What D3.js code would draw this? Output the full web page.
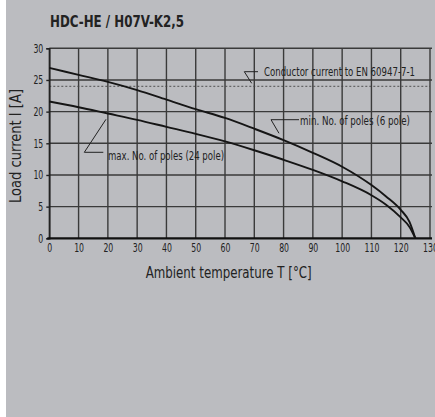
<!DOCTYPE html>
<html><head><meta charset="utf-8">
<script src="https://cdn.jsdelivr.net/npm/d3@7"></script>
<style>
html,body{margin:0;padding:0;background:#fff;}
svg{display:block;}
text{font-family:"DejaVu Sans Condensed","Liberation Sans Narrow",sans-serif;fill:#222;}
</style></head>
<body>
<script>
const title = "HDC-HE / H07V-K2,5";
const xLabel = "Ambient temperature T [°C]";
const yLabel = "Load current I [A]";
const xTicks = [0,10,20,30,40,50,60,70,80,90,100,110,120,130];
const yTicks = [0,5,10,15,20,25,30];
const conductorCurrent = 24;
const tempMin = [0,10,20,30,40,50,60,70,80,90,100,110,115,120,123,125];
const currentMin = [26.9,25.8,24.7,23.4,21.9,20.4,19.0,17.3,15.5,13.5,11.3,8.4,6.6,4.5,2.6,0];
const tempMax = [0,10,20,30,40,50,60,70,80,90,100,110,115,120,123,125];
const currentMax = [21.6,20.7,19.7,18.7,17.6,16.5,15.3,13.9,12.4,10.8,9.0,6.8,5.3,3.3,1.8,0];
const annConductor = "Conductor current to EN 60947-7-1";
const annMin = "min. No. of poles (6 pole)";
const annMax = "max. No. of poles (24 pole)";

const W = 435, H = 417;
const svg = d3.select("body").append("svg").attr("width", W).attr("height", H);
svg.append("rect").attr("x", 6).attr("y", 0).attr("width", W - 6).attr("height", H).attr("fill", "#bbbcc0");

const x = d3.scaleLinear().domain([0,130]).range([49.3,430]);
const y = d3.scaleLinear().domain([0,30]).range([238.3,48.3]);

function condense(sel, f) {
  sel.each(function() {
    const L = this.getComputedTextLength();
    d3.select(this).attr("textLength", L * f).attr("lengthAdjust", "spacingAndGlyphs");
  });
}

// grid
const g = svg.append("g");
g.selectAll(".vg").data(xTicks).join("line")
  .attr("x1", d => x(d)).attr("x2", d => x(d))
  .attr("y1", y(30)).attr("y2", y(0))
  .attr("stroke", "#3a3a3a").attr("stroke-width", 1.4);
g.selectAll(".hg").data(yTicks.filter(d => d > 0)).join("line")
  .attr("x1", x(0)).attr("x2", x(130) + 2)
  .attr("y1", d => y(d)).attr("y2", d => y(d))
  .attr("stroke", "#3a3a3a").attr("stroke-width", 1.4);

// dotted conductor line
g.append("line").attr("x1", x(0)).attr("x2", x(130))
  .attr("y1", y(conductorCurrent)).attr("y2", y(conductorCurrent))
  .attr("stroke", "#444").attr("stroke-width", 0.9).attr("stroke-dasharray", "2,2");

// y axis
const yAxis = d3.axisLeft(y).tickValues(yTicks).tickSize(3).tickPadding(3);
const ya = svg.append("g").attr("transform", `translate(${x(0)},0)`).call(yAxis);
ya.select(".domain").attr("stroke", "#222").attr("stroke-width", 1.6);
ya.selectAll(".tick line").attr("stroke", "#222").attr("stroke-width", 1.4);
ya.selectAll(".tick text").attr("font-size", 12).attr("fill", "#333")
  .style("font-family", '"DejaVu Sans Condensed",sans-serif');
condense(ya.selectAll(".tick text"), 0.72);

// x axis
const xAxis = d3.axisBottom(x).tickValues(xTicks).tickSize(0).tickPadding(5);
const xa = svg.append("g").attr("transform", `translate(0,${y(0)})`).call(xAxis);
xa.select(".domain").remove();
xa.selectAll(".tick text").attr("font-size", 12).attr("fill", "#333")
  .style("font-family", '"DejaVu Sans Condensed",sans-serif');
condense(xa.selectAll(".tick text"), 0.72);
svg.append("line").attr("x1", x(0) - 2).attr("x2", x(130) + 2)
  .attr("y1", y(0)).attr("y2", y(0)).attr("stroke", "#111").attr("stroke-width", 2.2);

// curves
const line = d3.line().x(d => x(d[0])).y(d => y(d[1])).curve(d3.curveMonotoneX);
svg.append("path").datum(tempMin.map((t,i) => [t, currentMin[i]]))
  .attr("d", line).attr("fill", "none").attr("stroke", "#151515").attr("stroke-width", 1.9);
svg.append("path").datum(tempMax.map((t,i) => [t, currentMax[i]]))
  .attr("d", line).attr("fill", "none").attr("stroke", "#151515").attr("stroke-width", 1.9);

// annotations
const leader = (pts) => svg.append("polyline").attr("points", pts.map(p => p.join(",")).join(" "))
  .attr("fill", "none").attr("stroke", "#222").attr("stroke-width", 1);
leader([[258,71.7],[244.3,71.7],[251.7,83.3]]);
svg.append("text").attr("x", 264).attr("y", 76).attr("font-size", 11.5)
  .attr("textLength", 151).attr("lengthAdjust", "spacingAndGlyphs").text(annConductor);
leader([[299,119.7],[271,119.7],[279,133.3]]);
svg.append("text").attr("x", 300).attr("y", 124.5).attr("font-size", 11.5)
  .attr("textLength", 110).attr("lengthAdjust", "spacingAndGlyphs").text(annMin);
leader([[103.3,152.3],[84.3,152.3],[106,119.3]]);
svg.append("text").attr("x", 108).attr("y", 160).attr("font-size", 11.5)
  .attr("textLength", 116).attr("lengthAdjust", "spacingAndGlyphs").text(annMax);

// title
svg.append("text").attr("x", 50).attr("y", 26.7).attr("font-size", 16).attr("font-weight", "bold")
  .attr("fill", "#1a1a1a").attr("textLength", 134).attr("lengthAdjust", "spacingAndGlyphs").text(title);

// axis titles
svg.append("text").attr("x", 228.7).attr("y", 278).attr("text-anchor", "middle")
  .attr("font-size", 16).attr("textLength", 166).attr("lengthAdjust", "spacingAndGlyphs").text(xLabel);
svg.append("text").attr("transform", `translate(21,146) rotate(-90)`).attr("text-anchor", "middle")
  .attr("font-size", 16).attr("textLength", 114).attr("lengthAdjust", "spacingAndGlyphs").text(yLabel);
</script>
</body></html>
